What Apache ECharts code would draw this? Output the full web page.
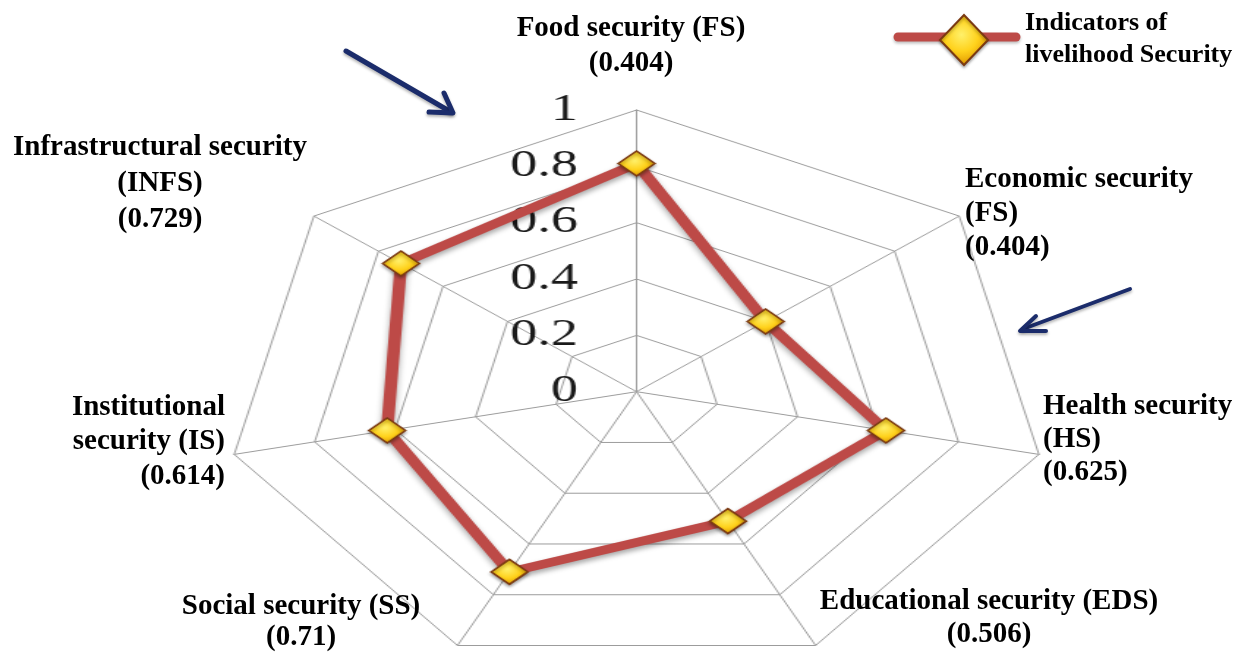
<!DOCTYPE html>
<html>
<head>
<meta charset="utf-8">
<title>Indicators of livelihood security</title>
<script src="https://cdn.jsdelivr.net/npm/echarts@6/dist/echarts.min.js"></script>
<style>
html, body { margin: 0; padding: 0; background: #fff; }
#stage { position: relative; width: 1253px; height: 654px; overflow: hidden; background: #fff; }
/* the original figure is stretched sideways, so the radar canvas is too */
#radar-chart { position: absolute; left: 0; top: 0; width: 855px; height: 654px; transform: scaleX(1.465); transform-origin: 0 0; }
#note-layer { position: absolute; left: 0; top: 0; width: 1253px; height: 654px; }
</style>
</head>
<body>
<div id="stage">
	<div id="radar-chart"></div>
	<div id="note-layer"></div>
</div>
<script>
// radar axes, in echarts order (counter-clockwise, starting at the top)
var indicatorNames = ['Food security', 'Infrastructural security', 'Institutional security', 'Social security', 'Educational security', 'Health security', 'Economic security'];
// values as plotted on the line
var plotValues = [0.81, 0.73, 0.62, 0.71, 0.51, 0.62, 0.40];
// scale of every axis: 0 .. 1 in 5 steps (0, 0.2, ... 1)
var axisMin = 0;
var axisMax = 1;
var axisSteps = 5;
// annotation texts printed round the chart (same order as indicatorNames)
var axisTitles = [
	'Food security (FS)\n(0.404)',
	'Infrastructural security\n(INFS)\n(0.729)',
	'Institutional\nsecurity (IS)\n(0.614)',
	'Social security (SS)\n(0.71)',
	'Educational security (EDS)\n(0.506)',
	'Health security\n(HS)\n(0.625)',
	'Economic security\n(FS)\n(0.404)'
];
var seriesName = 'Indicators of livelihood Security';
var legendText = 'Indicators of\nlivelihood Security';

var redLine = '#bd4a47';
var markerBorder = '#7b3a12';
var arrowColor = '#1b2c6b';
var gridColor = '#9c9c9c';

function goldFill() {
	return new echarts.graphic.RadialGradient(0.45, 0.4, 0.6, [
		{ offset: 0, color: '#fff06a' },
		{ offset: 0.55, color: '#ffd21c' },
		{ offset: 1, color: '#e39a00' }
	]);
}

/***
 * radar part
 ***/
var radarChart = echarts.init(document.getElementById('radar-chart'));

var indicator = indicatorNames.map(function(n, i) {
	var o = { name: n, min: axisMin, max: axisMax };
	// only the top axis carries the numbers
	if(i === 0) {
		o.axisLabel = {
			show: true,
			margin: 40,
			fontSize: 37,
			fontFamily: '"Liberation Serif", "Times New Roman", serif',
			color: '#1a1a1a'
		};
	}
	return o;
});

radarChart.setOption({
	animation: false,
	radar: {
		center: [434.5, 391.7],
		radius: 281.7,
		startAngle: 90,
		splitNumber: axisSteps,
		shape: 'polygon',
		indicator: indicator,
		axisName: { show: false },
		axisTick: { show: false },
		axisLabel: { show: false },
		axisLine: { lineStyle: { color: gridColor, width: 1 } },
		splitLine: { lineStyle: { color: gridColor, width: 1 } },
		splitArea: { show: false }
	},
	series: [{
		type: 'radar',
		name: seriesName,
		symbol: 'diamond',
		symbolSize: [25, 25],
		lineStyle: {
			color: redLine,
			width: 8.5,
			shadowColor: 'rgba(0,0,0,0.35)',
			shadowBlur: 5,
			shadowOffsetY: 3
		},
		itemStyle: {
			color: goldFill(),
			borderColor: markerBorder,
			borderWidth: 1.5,
			shadowColor: 'rgba(0,0,0,0.3)',
			shadowBlur: 3,
			shadowOffsetY: 2
		},
		data: [{ name: seriesName, value: plotValues }]
	}]
});

/***
 * notes on top: axis titles, legend, arrows
 ***/
var noteChart = echarts.init(document.getElementById('note-layer'));
var boldFont = 'bold 29px "Liberation Serif", "Times New Roman", serif';

// where each title sits: [x, top, align, lineHeight]
var titleSpots = [
	[631, 11, 'center', 35],
	[160, 130, 'center', 36],
	[225, 390, 'right', 34.5],
	[301, 591, 'center', 31],
	[989, 585, 'center', 33],
	[1043, 390, 'left', 33],
	[965, 163, 'left', 34]
];

var graphics = [];
axisTitles.forEach(function(t, i) {
	var s = titleSpots[i];
	graphics.push({
		type: 'text',
		x: s[0],
		y: s[1],
		style: {
			text: t,
			font: boldFont,
			fill: '#000',
			align: s[2],
			verticalAlign: 'top',
			lineHeight: s[3]
		}
	});
});

// legend
graphics.push({
	type: 'line',
	shape: { x1: 898, y1: 37, x2: 1016, y2: 37 },
	style: { stroke: redLine, lineWidth: 9, lineCap: 'round', shadowColor: 'rgba(0,0,0,0.25)', shadowBlur: 3, shadowOffsetY: 2 }
}, {
	type: 'polygon',
	shape: { points: [[964, 15], [988, 40], [964, 65], [940, 40]] },
	style: { fill: goldFill(), stroke: markerBorder, lineWidth: 2, shadowColor: 'rgba(0,0,0,0.3)', shadowBlur: 3, shadowOffsetY: 2 }
}, {
	type: 'text',
	x: 1025,
	y: 7,
	style: {
		text: legendText,
		font: 'bold 26px "Liberation Serif", "Times New Roman", serif',
		fill: '#000',
		align: 'left',
		verticalAlign: 'top',
		lineHeight: 32
	}
});

// the two arrows
var arrowStyle = { stroke: arrowColor, lineWidth: 5, lineCap: 'round', lineJoin: 'round', fill: null, shadowColor: 'rgba(0,0,0,0.3)', shadowBlur: 3, shadowOffsetY: 2 };
graphics.push({
	type: 'line',
	shape: { x1: 346, y1: 51, x2: 451, y2: 112 },
	style: arrowStyle
}, {
	type: 'polyline',
	shape: { points: [[429, 112], [453, 113], [444, 93]] },
	style: arrowStyle
}, {
	type: 'line',
	shape: { x1: 1130, y1: 289, x2: 1023, y2: 329 },
	style: Object.assign({}, arrowStyle, { lineWidth: 4 })
}, {
	type: 'polyline',
	shape: { points: [[1036, 316], [1020, 331], [1046, 331]] },
	style: Object.assign({}, arrowStyle, { lineWidth: 4 })
});

noteChart.setOption({
	animation: false,
	graphic: graphics
});
</script>
</body>
</html>
